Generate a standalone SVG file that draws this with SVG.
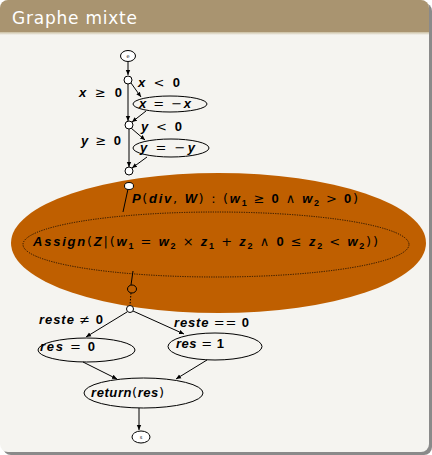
<svg xmlns="http://www.w3.org/2000/svg" width="432" height="455" viewBox="0 0 432 455">
<defs>
<marker id="ah" markerWidth="6" markerHeight="6" refX="5" refY="3" orient="auto" markerUnits="userSpaceOnUse">
<path d="M0,0.8 L5,3 L0,5.2 z" fill="#000"/>
</marker>
<linearGradient id="tg" x1="0" y1="0" x2="0" y2="1">
<stop offset="0" stop-color="#c9bd9f"/>
<stop offset="1" stop-color="#f5f4f0"/>
</linearGradient>
</defs>
<style>
.m{font-family:"Liberation Sans","DejaVu Sans",sans-serif;font-size:13px;font-weight:bold;font-style:italic;fill:#000}
.o{font-family:"DejaVu Sans",sans-serif;font-style:normal;font-weight:normal}
.n{font-style:normal;font-weight:bold}
.s{font-size:9px}
.nd{fill:#fff;stroke:#000;stroke-width:1}
.nb{fill:none;stroke:#000;stroke-width:1}
.e{stroke:#000;stroke-width:1;fill:none}
.a{stroke:#000;stroke-width:1;fill:none;marker-end:url(#ah)}
.d{stroke:#000;stroke-width:1;fill:none;stroke-dasharray:1.5 1.5}
.tiny{font-family:"DejaVu Sans",sans-serif;font-size:5px;fill:#000}
</style>
<!-- frame -->
<rect x="3" y="3" width="429" height="452" rx="8" fill="#8a8a8a"/>
<rect x="0" y="0" width="429" height="452" rx="8" fill="#f5f4f0"/>
<path d="M0,32 V8 A8,8 0 0 1 8,0 H421 A8,8 0 0 1 429,8 V32 z" fill="#a99470"/>
<rect x="0" y="32" width="429" height="3" fill="url(#tg)"/>
<text x="12" y="24" font-family="'DejaVu Sans','Liberation Sans',sans-serif" font-size="17" fill="#fff" textLength="125" lengthAdjust="spacing">Graphe mixte</text>

<!-- big orange node -->
<g id="node-block">
<ellipse cx="218.5" cy="243" rx="207.5" ry="70" fill="#bf5f00"/>
<ellipse cx="216" cy="244.5" rx="193" ry="32.5" fill="none" stroke="#000" stroke-width="0.8" stroke-dasharray="1.2 1.2"/>
<text class="m" x="132" y="203" textLength="226" lengthAdjust="spacing">P<tspan class="o">(</tspan>div<tspan class="o">, </tspan>W<tspan class="o">) : (</tspan>w<tspan class="n s" dy="3">1</tspan><tspan dy="-3"> </tspan><tspan class="o">≥</tspan> <tspan class="n">0</tspan> <tspan class="o">∧</tspan> w<tspan class="n s" dy="3">2</tspan><tspan dy="-3"> </tspan><tspan class="o">&gt;</tspan> <tspan class="n">0</tspan><tspan class="o">)</tspan></text>
<text class="m" x="33" y="246" textLength="345" lengthAdjust="spacing">Assign<tspan class="o">(</tspan>Z<tspan class="o">|(</tspan>w<tspan class="n s" dy="3">1</tspan><tspan dy="-3"> </tspan><tspan class="o">=</tspan> w<tspan class="n s" dy="3">2</tspan><tspan dy="-3"> </tspan><tspan class="o">×</tspan> z<tspan class="n s" dy="3">1</tspan><tspan dy="-3"> </tspan><tspan class="o">+</tspan> z<tspan class="n s" dy="3">2</tspan><tspan dy="-3"> </tspan><tspan class="o">∧</tspan> <tspan class="n">0</tspan> <tspan class="o">≤</tspan> z<tspan class="n s" dy="3">2</tspan><tspan dy="-3"> </tspan><tspan class="o">&lt;</tspan> w<tspan class="n s" dy="3">2</tspan><tspan class="o" dy="-3">))</tspan></text>
</g>

<!-- connectors -->
<g id="connectors">
<line class="a" x1="128" y1="62" x2="128" y2="75"/>
<line class="a" x1="128" y1="84" x2="128" y2="121"/>
<line class="a" x1="131" y1="83" x2="141" y2="97"/>
<line class="a" x1="146" y1="111" x2="132" y2="122"/>
<line class="a" x1="129" y1="129" x2="129" y2="167"/>
<line class="a" x1="131" y1="128" x2="145" y2="140"/>
<line class="a" x1="147" y1="157" x2="132" y2="168"/>
<line class="e" x1="128" y1="189" x2="123" y2="212"/>
<line class="e" x1="133" y1="271" x2="131" y2="285"/>
<line class="d" x1="131" y1="293" x2="130" y2="305"/>
<line class="a" x1="127" y1="312" x2="86" y2="337"/>
<line class="a" x1="133" y1="311" x2="184" y2="334"/>
<line class="a" x1="83" y1="362" x2="117" y2="379"/>
<line class="a" x1="207" y1="360" x2="176" y2="379"/>
<line class="a" x1="139" y1="408" x2="139" y2="430"/>
</g>

<!-- nodes -->
<g id="n-e"><ellipse class="nd" cx="128" cy="56" rx="7.5" ry="5.5"/><text class="tiny" x="128" y="57.5" text-anchor="middle">e</text></g>
<g id="c1"><circle class="nd" cx="128" cy="80" r="4"/></g>
<g id="lbl-xlt"><text class="m" x="138" y="87" textLength="42" lengthAdjust="spacing">x <tspan class="o">&lt;</tspan> <tspan class="n">0</tspan></text></g>
<g id="lbl-xge"><text class="m" x="79" y="97" textLength="43" lengthAdjust="spacing">x <tspan class="o">≥</tspan> <tspan class="n">0</tspan></text></g>
<g id="n-xneg"><ellipse class="nb" cx="170" cy="104" rx="37" ry="8"/><text class="m" x="139" y="108" textLength="52" lengthAdjust="spacing">x <tspan class="o">=</tspan> <tspan class="o">−</tspan>x</text></g>
<g id="c2"><circle class="nd" cx="129" cy="125" r="4"/></g>
<g id="lbl-ylt"><text class="m" x="141" y="131" textLength="41" lengthAdjust="spacing">y <tspan class="o">&lt;</tspan> <tspan class="n">0</tspan></text></g>
<g id="lbl-yge"><text class="m" x="81" y="145" textLength="40" lengthAdjust="spacing">y <tspan class="o">≥</tspan> <tspan class="n">0</tspan></text></g>
<g id="n-yneg"><ellipse class="nb" cx="171" cy="148" rx="38" ry="9"/><text class="m" x="140" y="152" textLength="55" lengthAdjust="spacing">y <tspan class="o">=</tspan> <tspan class="o">−</tspan>y</text></g>
<g id="c3"><circle class="nd" cx="129" cy="171" r="4"/></g>
<g id="c4"><ellipse class="nd" cx="129" cy="186" rx="4.5" ry="3.5"/></g>
<g id="c5"><ellipse class="nb" cx="132" cy="289" rx="4.5" ry="4"/></g>
<g id="c6"><circle class="nd" cx="130" cy="309" r="3.5"/></g>
<g id="lbl-rne"><text class="m" x="39" y="324" textLength="64" lengthAdjust="spacing">reste <tspan class="o">≠</tspan> <tspan class="n">0</tspan></text></g>
<g id="lbl-req"><text class="m" x="174" y="327" textLength="75" lengthAdjust="spacing">reste <tspan class="o">==</tspan> <tspan class="n">0</tspan></text></g>
<g id="n-res0"><ellipse class="nb" cx="86.5" cy="350" rx="48.5" ry="12"/><text class="m" x="40" y="351" textLength="55" lengthAdjust="spacing">res <tspan class="o">=</tspan> <tspan class="n">0</tspan></text></g>
<g id="n-res1"><ellipse class="nb" cx="215" cy="346.5" rx="47" ry="13.5"/><text class="m" x="176" y="348" textLength="48" lengthAdjust="spacing">res <tspan class="o">=</tspan> <tspan class="n">1</tspan></text></g>
<g id="n-return"><ellipse class="nb" cx="143.5" cy="393" rx="59.5" ry="15"/><text class="m" x="91" y="397" textLength="73" lengthAdjust="spacing">return<tspan class="o">(</tspan>res<tspan class="o">)</tspan></text></g>
<g id="n-s"><ellipse class="nd" cx="141" cy="437" rx="9" ry="6"/><text class="tiny" x="141" y="438.5" text-anchor="middle">s</text></g>
</svg>
